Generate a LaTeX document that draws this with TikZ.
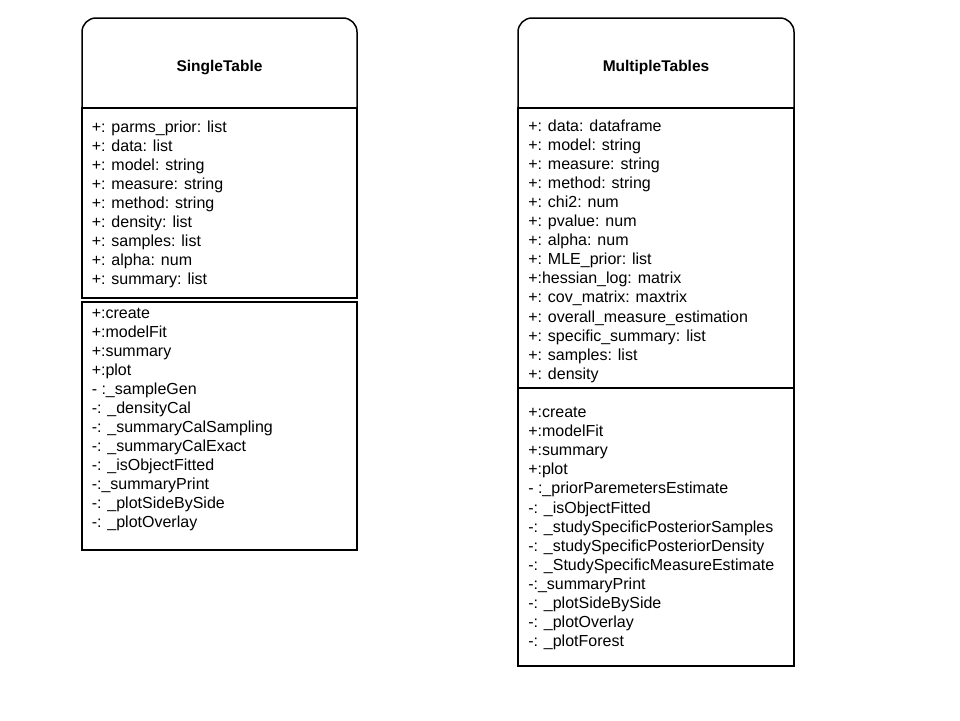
\documentclass[tikz,border=0pt]{standalone}
\usepackage{fontspec}
\setmainfont{Liberation Sans}
\begin{document}
\begin{tikzpicture}[x=1pt,y=-1pt,line width=1.5pt,
  row/.style={anchor=base west,inner sep=0pt,font=\fontsize{16}{19}\selectfont},
  classtitle/.style={anchor=base,inner sep=0pt,font=\fontsize{15.5}{19}\selectfont\bfseries},
  comp/.style={draw,fill=white,anchor=north west,inner sep=0pt,outer sep=0pt}]
\useasboundingbox (0,0) rectangle (960,720);
% SingleTable
\node[comp,rounded corners=14pt,minimum width=275pt,minimum height=120pt] (sthead) at (82,18) {};
\node[comp,minimum width=275pt,minimum height=190pt] (stattr) at (82,108) {};
\node[comp,minimum width=275pt,minimum height=248pt] (stmeth) at (82,302) {};
\node[classtitle] (sttitle) at (219.5,71) {SingleTable};
\foreach \t [count=\i] in {+: parms\_prior: list,+: data: list,+: model: string,+: measure: string,+: method: string,+: density: list,+: samples: list,+: alpha: num,+: summary: list}
  \node[row] (sa\i) at (91,{132+19*(\i-1)}) {\t};
\foreach \t [count=\i] in {+:create,+:modelFit,+:summary,+:plot,- :\_sampleGen,-: \_densityCal,-: \_summaryCalSampling,-: \_summaryCalExact,-: \_isObjectFitted,-:\_summaryPrint,-: \_plotSideBySide,-: \_plotOverlay}
  \node[row] (sm\i) at (91,{318+19*(\i-1)}) {\t};
% MultipleTables
\node[comp,rounded corners=14pt,minimum width=276pt,minimum height=120pt] (mthead) at (518,18) {};
\node[comp,minimum width=276pt,minimum height=280pt] (mtattr) at (518,108) {};
\node[comp,minimum width=276pt,minimum height=278pt] (mtmeth) at (518,388) {};
\node[classtitle] (mttitle) at (656,71) {MultipleTables};
\foreach \t [count=\i] in {+: data: dataframe,+: model: string,+: measure: string,+: method: string,+: chi2: num,+: pvalue: num,+: alpha: num,+: MLE\_prior: list,+:hessian\_log: matrix,+: cov\_matrix: maxtrix,+: overall\_measure\_estimation,+: specific\_summary: list,+: samples: list,+: density}
  \node[row] (ma\i) at (527.5,{131+19.1*(\i-1)}) {\t};
\foreach \t [count=\i] in {+:create,+:modelFit,+:summary,+:plot,- :\_priorParemetersEstimate,-: \_isObjectFitted,-: \_studySpecificPosteriorSamples,-: \_studySpecificPosteriorDensity,-: \_StudySpecificMeasureEstimate,-:\_summaryPrint,-: \_plotSideBySide,-: \_plotOverlay,-: \_plotForest}
  \node[row] (mm\i) at (527.5,{417.5+19.1*(\i-1)}) {\t};
\end{tikzpicture}
\end{document}
